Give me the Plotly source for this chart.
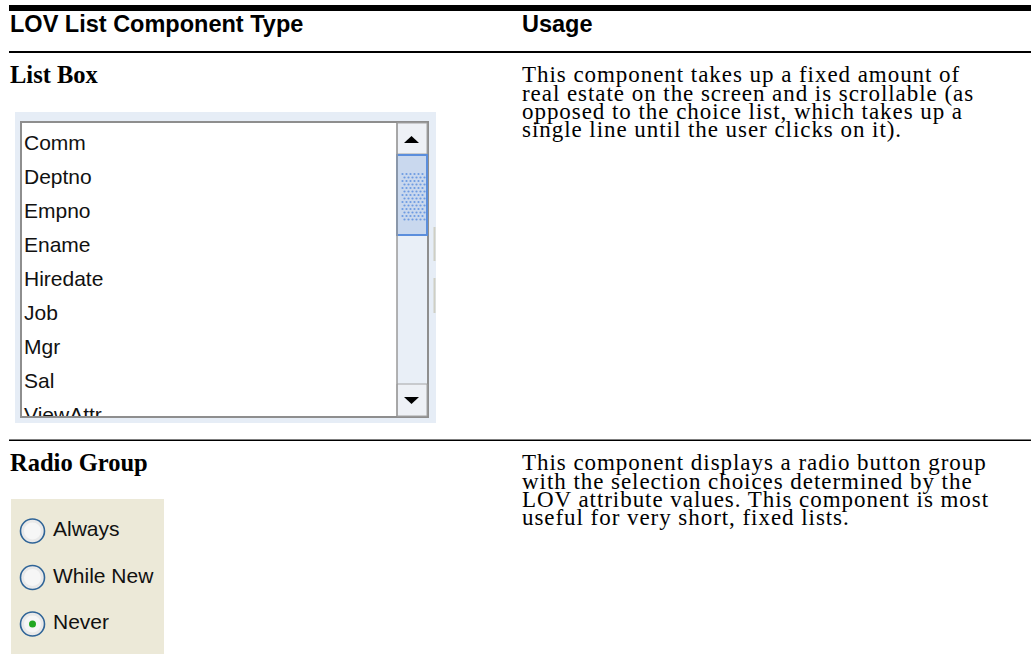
import numpy as np
import plotly.graph_objects as go

# ---------------- data ----------------
header_labels = ["LOV List Component Type", "Usage"]
row_titles = ["List Box", "Radio Group"]
row_descriptions = [
    ["This component takes up a fixed amount of",
     "real estate on the screen and is scrollable (as",
     "opposed to the choice list, which takes up a",
     "single line until the user clicks on it)."],
    ["This component displays a radio button group",
     "with the selection choices determined by the",
     "LOV attribute values. This component is most",
     "useful for very short, fixed lists."],
]
list_items = ["Comm", "Deptno", "Empno", "Ename", "Hiredate", "Job", "Mgr", "Sal", "ViewAttr"]
radio_options = ["Always", "While New", "Never"]
selected_option = "Never"

# ---------------- layout constants ----------------
W, H = 1031, 666
SANS = "Liberation Sans, Arial, sans-serif"
SERIF = "Liberation Serif, Times New Roman, serif"
col1_x, col2_x = 9, 521
head_size, title_size, body_size, widget_size = 23.5, 24.5, 23, 21
body_spacing = "0.95px"
line_gap = 18.2
row_baselines = [82.5, 470.5]
item_top, item_gap = 142.5, 34
radio_cy0, radio_gap = 531, 46.5

fig = go.Figure()
shapes = []
annotations = []

def rect(x0, y0, x1, y1, fill, line=None, lw=0, layer="below"):
    shapes.append(dict(type="rect", xref="x", yref="y", x0=x0, y0=y0, x1=x1, y1=y1,
                       fillcolor=fill, line=dict(color=line or fill, width=lw), layer=layer))

def text(x, baseline, s, font, size, weight="normal", color="#000", spacing=None):
    if spacing:
        s = '<span style="letter-spacing:%s">%s</span>' % (spacing, s)
    annotations.append(dict(xref="x", yref="y", x=x, y=baseline - 0.335 * size, text=s,
                            showarrow=False, xanchor="left", yanchor="middle", borderpad=0,
                            font=dict(family=font, size=size, color=color, weight=weight)))

# table rules
rect(9, 5, W, 11, "#000")
rect(9, 51, W, 53, "#000")
rect(9, 439.5, W, 441, "#000")

# header
text(col1_x, 31.5, header_labels[0], SANS, head_size, "bold")
text(col2_x, 31.5, header_labels[1], SANS, head_size, "bold")

# rows
for r in range(2):
    text(col1_x, row_baselines[r], row_titles[r], SERIF, title_size, "bold")
    for i, ln in enumerate(row_descriptions[r]):
        text(col2_x, row_baselines[r] + i * line_gap, ln, SERIF, body_size, spacing=body_spacing)

# ---------------- list box widget ----------------
rect(15, 112, 436, 423, "#E6EDF6")
rect(21, 122, 428, 417, "#FFFFFF", "#8E8E8E", 2)
# scrollbar
rect(397, 123, 427, 416, "#E9EFF7")
rect(397, 123, 427, 154, "#EEF1F6", "#A4A4A4", 1)
rect(397, 384, 427, 416, "#EEF1F6", "#A4A4A4", 1)
rect(397, 155, 427, 235, "#C9D8EE", "#5B8EDC", 2)
shapes.append(dict(type="line", xref="x", yref="y", x0=397, x1=397, y0=123, y1=416,
                   line=dict(color="#9A9A9A", width=1.5)))
shapes.append(dict(type="path", xref="x", yref="y", path="M 404 143 L 419 143 L 411.5 136 Z",
                   fillcolor="#000", line=dict(width=0)))
shapes.append(dict(type="path", xref="x", yref="y", path="M 404 397 L 419 397 L 411.5 404 Z",
                   fillcolor="#000", line=dict(width=0)))
# small grey marks beside the widget
for y0, y1 in [(227, 261), (278, 313)]:
    shapes.append(dict(type="line", xref="x", yref="y", x0=434.5, x1=434.5, y0=y0, y1=y1,
                       line=dict(color="#CFCFC4", width=2)))

# thumb grip dots
gx, gy = [], []
for rr in range(14):
    for cc in range(6):
        gx.append(402.5 + cc * 4 + (rr % 2) * 2)
        gy.append(174 + rr * 3.5)
fig.add_trace(go.Scatter(x=gx, y=gy, mode="markers", hoverinfo="skip",
                         marker=dict(size=2.2, color="#6E9BE2"), showlegend=False))

# list items (clipped to the list interior)
fig.add_trace(go.Scatter(
    x=[24] * len(list_items),
    y=[item_top + 0.11 * widget_size + i * item_gap for i in range(len(list_items))],
    text=list_items, mode="text", textposition="middle right", cliponaxis=True,
    textfont=dict(family=SANS, size=widget_size, color="#111"),
    hoverinfo="skip", showlegend=False, xaxis="x2", yaxis="y2"))

# ---------------- radio group widget ----------------
rect(11, 499, 164, 654, "#ECE9D8")
for i, opt in enumerate(radio_options):
    cy = radio_cy0 + i * radio_gap
    shapes.append(dict(type="circle", xref="x", yref="y", x0=20.5, x1=44.5, y0=cy - 12, y1=cy + 12,
                       fillcolor="#E9E9E9", line=dict(color="#2F6497", width=1.6)))
    shapes.append(dict(type="circle", xref="x", yref="y", x0=24, x1=41, y0=cy - 8.5, y1=cy + 8.5,
                       fillcolor="#F6F6F6", line=dict(width=0)))
    if opt == selected_option:
        shapes.append(dict(type="circle", xref="x", yref="y", x0=29, x1=36, y0=cy - 3.5, y1=cy + 3.5,
                           fillcolor="#22A822", line=dict(width=0)))
    text(52, cy + 5.0, opt, SANS, widget_size, color="#111")

fig.update_layout(
    width=W, height=H, margin=dict(l=0, r=0, t=0, b=0),
    paper_bgcolor="#FFFFFF", plot_bgcolor="rgba(0,0,0,0)",
    xaxis=dict(range=[0, W], visible=False, fixedrange=True),
    yaxis=dict(range=[H, 0], visible=False, fixedrange=True),
    xaxis2=dict(domain=[22 / W, 396 / W], range=[22, 396], visible=False, anchor="y2", fixedrange=True),
    yaxis2=dict(domain=[(H - 416) / H, (H - 123) / H], range=[416, 123], visible=False,
                anchor="x2", fixedrange=True),
    shapes=shapes, annotations=annotations, showlegend=False,
)
fig.write_html("out.html", config={"displayModeBar": False},
               post_script="document.body.style.margin='0';document.body.style.overflow='hidden';")
